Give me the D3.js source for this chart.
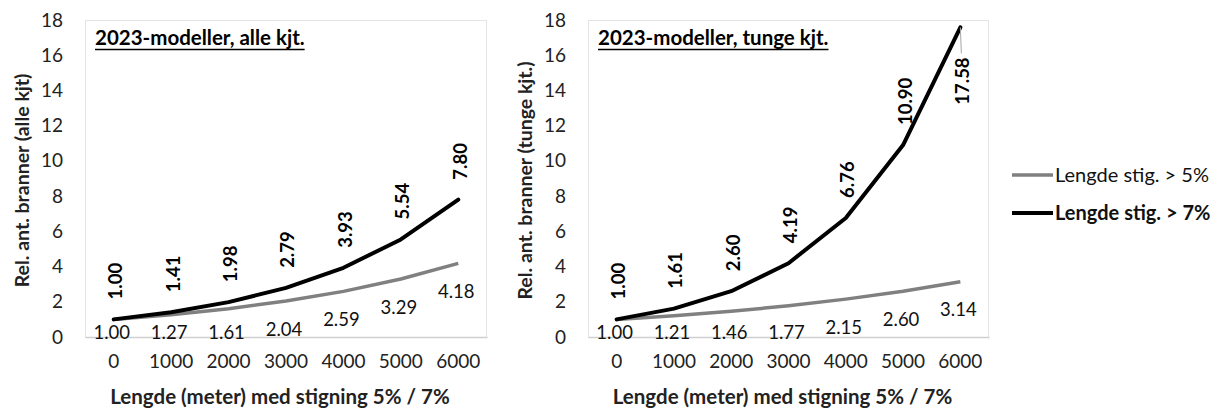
<!DOCTYPE html>
<html>
<head>
<meta charset="utf-8">
<script src="https://cdn.jsdelivr.net/npm/d3@7"></script>
<style>
  html, body { margin: 0; padding: 0; background: #fff; }
  svg { display: block; font-family: Lato, "Open Sans", sans-serif; }
</style>
</head>
<body>
<svg id="chart" width="1219" height="410"></svg>
<script>
// Lengths along the grade (metres)
const lengths = [0, 1000, 2000, 3000, 4000, 5000, 6000];
const yTicks = [0, 2, 4, 6, 8, 10, 12, 14, 16, 18];

// Relative number of fires, all vehicles
const alleOver5 = [1.00, 1.27, 1.61, 2.04, 2.59, 3.29, 4.18];
const alleOver7 = [1.00, 1.41, 1.98, 2.79, 3.93, 5.54, 7.80];

// Relative number of fires, heavy vehicles
const tungeOver5 = [1.00, 1.21, 1.46, 1.77, 2.15, 2.60, 3.14];
const tungeOver7 = [1.00, 1.61, 2.60, 4.19, 6.76, 10.90, 17.58];

const seriesNames = ["Lengde stig. > 5%", "Lengde stig. > 7%"];
const panelTitles = ["2023-modeller, alle kjt.", "2023-modeller, tunge kjt."];
const yTitles = ["Rel. ant. branner (alle kjt)", "Rel. ant. branner (tunge kjt.)"];
const xTitle = "Lengde (meter) med stigning 5% / 7%";

const svg = d3.select("#chart");
const GREY = "#808080";
const fmt = d3.format(".2f");

function drawPanel(left, right, low, high, panelTitle, yTitle) {
  const top = 20, bottom = 337;
  const g = svg.append("g");

  const x = d3.scaleBand().domain(lengths).range([left, right]);
  const cx = v => x(v) + x.bandwidth() / 2;
  const y = d3.scaleLinear().domain([0, 18]).range([bottom, top]);

  // plot frame
  g.append("rect")
    .attr("x", left + 0.5).attr("y", top + 0.5)
    .attr("width", right - left - 1).attr("height", bottom - top)
    .attr("fill", "none").attr("stroke", "#c8c8c8")
    .attr("stroke-width", 1).attr("stroke-dasharray", "1,1");

  // y axis (labels only)
  const yAxis = d3.axisLeft(y).tickValues(yTicks).tickSize(0).tickPadding(22);
  const ya = g.append("g").attr("transform", `translate(${left},0)`).call(yAxis);
  ya.select(".domain").remove();
  ya.selectAll("text").attr("font-size", 19).attr("fill", "#222").attr("font-family", "Lato, sans-serif");

  // x axis
  const xAxis = d3.axisBottom(x).tickSize(0).tickPadding(18);
  const xa = g.append("g").attr("transform", `translate(0,${bottom})`).call(xAxis);
  xa.select(".domain").attr("stroke", "#d0d0d0").attr("stroke-width", 1.5);
  xa.selectAll("text").attr("font-size", 19).attr("fill", "#222").attr("font-family", "Lato, sans-serif");

  const line = d3.line().x((d, i) => cx(lengths[i])).y(d => y(d));

  g.append("path").datum(low).attr("d", line)
    .attr("fill", "none").attr("stroke", GREY).attr("stroke-width", 3.5)
    .attr("stroke-linejoin", "round");
  g.append("path").datum(high).attr("d", line)
    .attr("fill", "none").attr("stroke", "#000").attr("stroke-width", 4)
    .attr("stroke-linejoin", "round").attr("stroke-linecap", "round");

  // labels of the > 5% series, below the line but kept inside the frame
  g.selectAll(".lowLabel").data(low).enter().append("text")
    .attr("x", (d, i) => cx(lengths[i]) - 2)
    .attr("y", d => Math.min(y(d) + 28, bottom - 4))
    .attr("dy", "0.35em")
    .attr("text-anchor", "middle")
    .attr("font-size", 18.5).attr("fill", "#111")
    .text(d => fmt(d));

  // rotated labels of the > 7% series, above the line
  high.forEach((d, i) => {
    const px = cx(lengths[i]), py = y(d);
    const t = g.append("text")
      .attr("font-size", 18.5).attr("font-weight", "bold").attr("fill", "#000")
      .attr("dy", "0.35em")
      .text(fmt(d));
    const len = t.node().getComputedTextLength();
    if (py - 20 - len < top) {
      // no room above: label sits under the point with a leader line
      const yEnd = py + 30;
      g.append("line")
        .attr("x1", px).attr("y1", py)
        .attr("x2", px + 1).attr("y2", yEnd - 4)
        .attr("stroke", "#a6a6a6").attr("stroke-width", 1);
      t.attr("text-anchor", "end")
        .attr("transform", `translate(${px + 2},${yEnd}) rotate(-90)`);
    } else {
      t.attr("text-anchor", "start")
        .attr("transform", `translate(${px + 2},${py - 20}) rotate(-90)`);
    }
  });

  // panel title
  const tt = g.append("text")
    .attr("x", left + 10).attr("y", 45)
    .attr("font-size", 20.5).attr("font-weight", "bold").attr("fill", "#000")
    .text(panelTitle);
  const tw = tt.node().getComputedTextLength();
  g.append("line")
    .attr("x1", left + 10).attr("x2", left + 10 + tw)
    .attr("y1", 49.5).attr("y2", 49.5)
    .attr("stroke", "#000").attr("stroke-width", 1.5);

  // y axis title
  g.append("text")
    .attr("transform", `translate(${left - 63},${(top + bottom) / 2 + 2}) rotate(-90)`)
    .attr("text-anchor", "middle").attr("dy", "0.35em")
    .attr("font-size", 19.5).attr("font-weight", "bold").attr("fill", "#222")
    .text(yTitle);

  // x axis title
  g.append("text")
    .attr("x", (left + right) / 2 - 6).attr("y", 397)
    .attr("text-anchor", "middle").attr("dy", "0.35em")
    .attr("font-size", 20.5).attr("font-weight", "bold").attr("fill", "#222")
    .text(xTitle);
}

drawPanel(85, 487, alleOver5, alleOver7, panelTitles[0], yTitles[0]);
drawPanel(588, 989, tungeOver5, tungeOver7, panelTitles[1], yTitles[1]);

// legend
const legend = svg.append("g");
const legendItems = [
  { name: seriesNames[0], color: GREY, width: 3.5, weight: "normal", y: 175 },
  { name: seriesNames[1], color: "#000", width: 4, weight: "bold", y: 213 }
];
legendItems.forEach(it => {
  legend.append("line")
    .attr("x1", 1012).attr("x2", 1053).attr("y1", it.y).attr("y2", it.y)
    .attr("stroke", it.color).attr("stroke-width", it.width);
  legend.append("text")
    .attr("x", 1055).attr("y", it.y).attr("dy", "0.35em")
    .attr("font-size", 20).attr("font-weight", it.weight).attr("fill", "#111")
    .text(it.name);
});
</script>
</body>
</html>
